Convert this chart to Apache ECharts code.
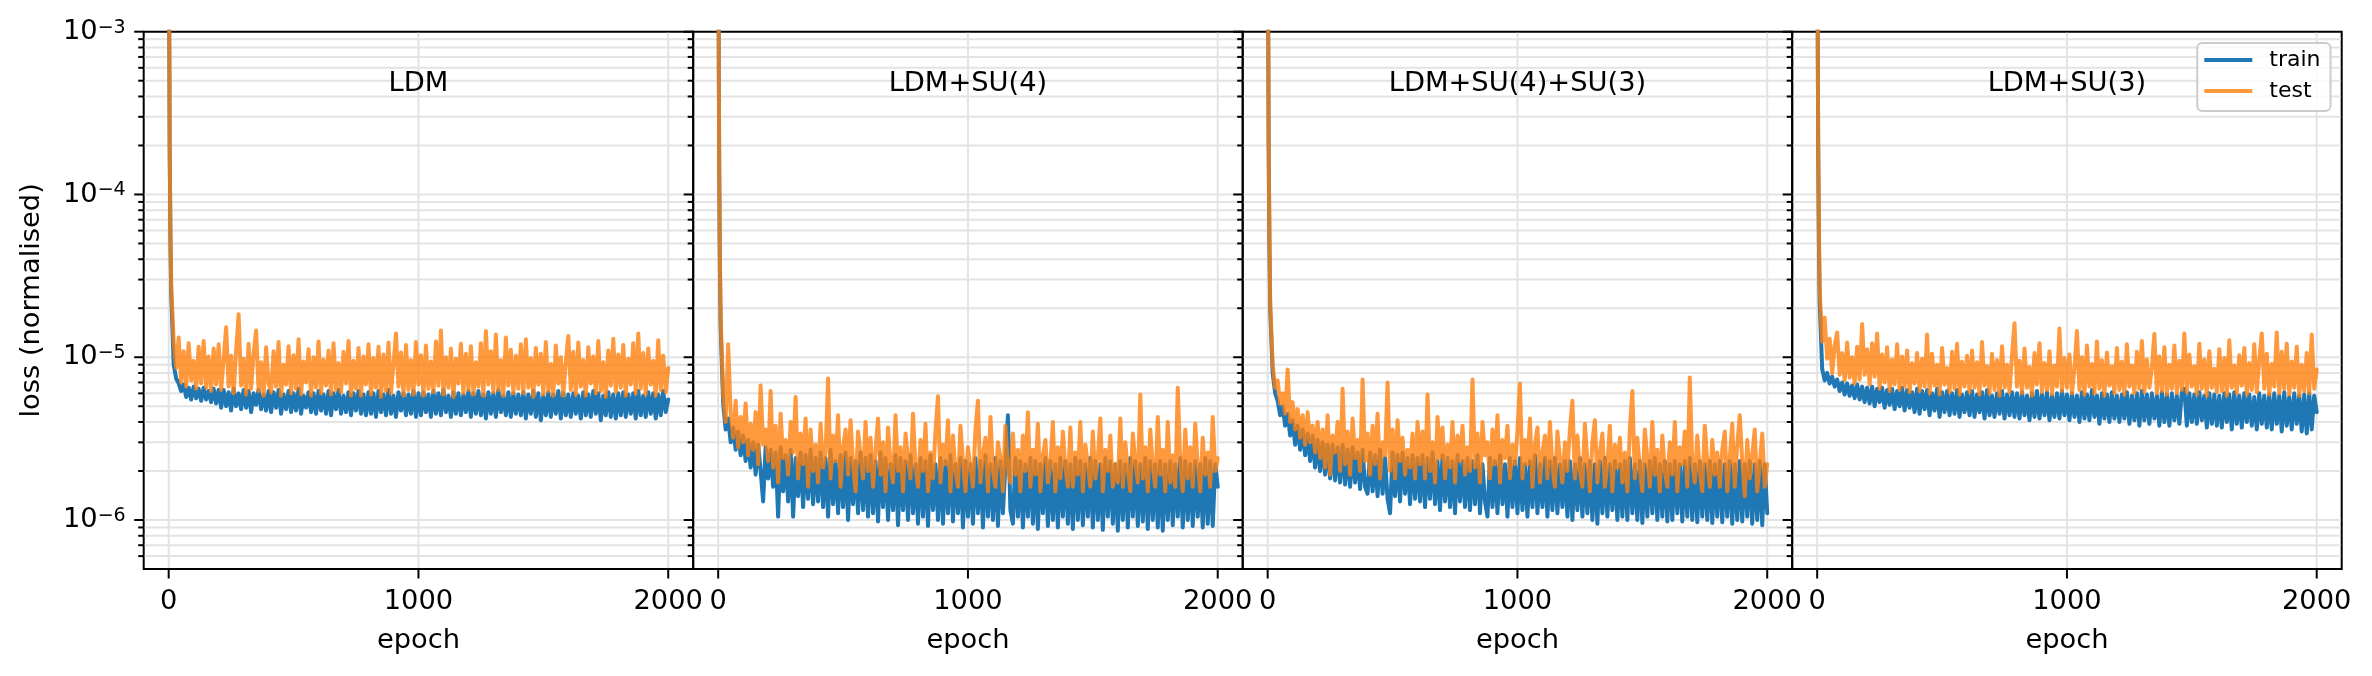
<!DOCTYPE html>
<html>
<head>
<meta charset="utf-8">
<title>loss curves</title>
<script src="https://cdn.jsdelivr.net/npm/echarts@6.0.0/dist/echarts.min.js"></script>
<style>
  html, body { margin: 0; padding: 0; background: #fff; }
  #chart { width: 2372px; height: 676px; }
</style>
</head>
<body>
<div id="chart"></div>
<script>
// panels, left to right
var panelTitles = ['LDM', 'LDM+SU(4)', 'LDM+SU(4)+SU(3)', 'LDM+SU(3)'];
var seriesNames = ['train', 'test'];
var xTicks = [0, 1000, 2000];
var yMajorTicks = [1e-6, 1e-5, 1e-4, 1e-3];

// epochs sampled: three early ones for the drop, then every 10
var earlyEpochs = [1, 4, 7];

// loss (normalised), in units of 1e-6
// one row = 200 epochs (10..200, 210..400, ...)
var ldmTrain = [3000, 200, 55,
  25, 9.0, 7.4, 6.9, 6.2, 6.8, 5.7, 6.5, 5.5, 6.6, 5.6, 6.4, 5.4, 6.5, 5.5, 6.2, 5.3, 6.4, 5.2, 6.3,
  4.9, 6.3, 5.0, 6.1, 4.7, 6.4, 5.0, 6.0, 4.8, 6.3, 4.9, 6.2, 4.6, 6.0, 5.1, 6.3, 4.8, 5.9, 4.7, 6.2,
  4.6, 6.1, 4.9, 6.3, 4.5, 5.9, 4.8, 6.2, 4.6, 6.0, 4.7, 6.4, 4.5, 5.8, 4.9, 6.1, 4.6, 6.0, 4.5, 6.2,
  4.7, 5.9, 4.5, 6.2, 4.4, 6.0, 4.8, 6.3, 4.5, 5.8, 4.6, 6.1, 4.4, 6.0, 4.7, 6.2, 4.5, 5.9, 4.4, 6.1,
  4.5, 6.0, 4.3, 6.2, 4.6, 5.9, 4.4, 6.3, 4.5, 5.8, 4.3, 6.1, 4.7, 6.0, 4.4, 5.9, 4.5, 6.2, 4.3, 6.0,
  4.4, 6.1, 4.6, 5.9, 4.3, 6.2, 4.5, 6.0, 4.4, 6.3, 4.6, 5.8, 4.3, 6.1, 4.5, 6.0, 4.4, 5.9, 4.6, 6.2,
  4.3, 6.0, 4.5, 6.2, 4.4, 5.9, 4.2, 6.1, 4.5, 6.0, 4.3, 6.3, 4.6, 5.8, 4.4, 6.1, 4.3, 6.0, 4.5, 5.9,
  4.4, 6.1, 4.2, 5.9, 4.5, 6.2, 4.3, 6.0, 4.1, 5.8, 4.4, 6.1, 4.3, 5.9, 4.5, 6.2, 4.2, 6.0, 4.4, 5.9,
  4.3, 6.0, 4.5, 5.8, 4.2, 6.1, 4.4, 5.9, 4.3, 6.2, 4.5, 6.0, 4.1, 5.8, 4.4, 6.1, 4.3, 5.9, 4.2, 6.0,
  4.4, 6.1, 4.3, 5.9, 4.5, 6.0, 4.2, 6.2, 4.4, 5.8, 4.3, 6.1, 4.5, 6.0, 4.2, 5.9, 4.4, 6.2, 4.6, 5.5];
var ldmTest = [3000, 210, 60,
  28, 12.5, 8.6, 13.2, 7.0, 10.9, 6.6, 12.2, 7.2, 9.5, 6.4, 11.6, 6.9, 12.6, 6.5, 10.1, 6.2, 11.3, 6.8, 12.0,
  6.3, 9.6, 15.3, 6.6, 10.2, 6.0, 11.0, 18.4, 6.7, 9.8, 5.9, 12.1, 6.4, 10.6, 14.6, 6.2, 9.3, 5.8, 11.5, 6.9,
  6.1, 10.9, 6.6, 12.4, 5.8, 9.0, 6.8, 11.7, 6.0, 10.3, 6.4, 12.9, 5.9, 9.4, 7.0, 11.2, 5.8, 10.0, 6.5, 12.5,
  6.0, 9.7, 6.7, 11.0, 5.9, 12.2, 6.3, 9.2, 6.1, 10.8, 6.9, 12.6, 5.8, 9.5, 6.4, 11.4, 5.8, 10.1, 6.8, 12.0,
  5.9, 9.9, 6.5, 11.6, 5.7, 10.4, 6.2, 12.3, 6.0, 9.1, 14.0, 6.6, 10.7, 5.8, 11.9, 6.3, 9.6, 5.9, 12.4, 6.8,
  10.3, 5.8, 11.8, 6.4, 9.4, 6.1, 12.5, 6.7, 14.6, 5.9, 10.0, 6.5, 11.3, 5.7, 9.8, 6.9, 12.1, 6.0, 10.5, 6.3,
  11.7, 5.9, 9.3, 6.6, 12.2, 5.8, 14.5, 6.8, 10.9, 6.1, 13.8, 6.3, 9.6, 5.8, 13.2, 6.7, 11.1, 6.0, 10.2, 6.4,
  12.0, 6.0, 12.9, 6.5, 9.9, 5.7, 11.4, 6.8, 10.5, 5.9, 12.4, 6.2, 9.1, 5.8, 11.8, 6.9, 10.0, 5.8, 9.4, 13.5,
  6.3, 10.8, 5.9, 12.3, 6.6, 9.6, 5.8, 11.5, 6.9, 10.1, 6.0, 12.6, 6.2, 9.3, 5.7, 11.0, 6.7, 13.0, 6.1, 10.4,
  6.5, 11.9, 5.8, 9.8, 6.8, 12.2, 6.0, 14.0, 6.4, 10.6, 5.9, 11.3, 6.8, 9.5, 5.8, 12.7, 6.3, 10.2, 6.1, 8.6];

var su4Train = [3000, 150, 35,
  15, 5.2, 3.6, 4.2, 3.0, 3.7, 2.7, 3.5, 2.5, 3.3, 2.3, 3.1, 2.1, 3.0, 1.9, 2.9, 2.0, 1.3, 2.8, 1.8,
  2.7, 1.6, 2.6, 1.05, 2.8, 1.5, 2.5, 1.3, 2.7, 1.05, 2.4, 1.4, 2.6, 1.2, 2.5, 1.35, 2.7, 1.25, 2.4, 1.3,
  2.6, 1.2, 2.4, 1.05, 2.7, 1.25, 2.3, 1.1, 2.5, 1.2, 2.6, 1.0, 2.4, 1.25, 2.3, 1.1, 2.6, 1.15, 2.4, 1.05,
  2.5, 1.1, 2.3, 0.98, 2.6, 1.2, 2.4, 1.0, 2.2, 1.15, 2.5, 0.93, 2.4, 1.15, 2.3, 1.0, 2.5, 1.1, 2.2, 0.95,
  2.4, 1.05, 2.3, 0.92, 2.5, 1.15, 2.2, 1.0, 2.4, 0.95, 2.3, 1.1, 2.5, 0.98, 2.2, 1.1, 2.4, 0.9, 2.3, 1.05,
  2.2, 0.95, 2.4, 1.1, 2.3, 0.9, 2.5, 1.05, 2.2, 1.0, 2.4, 0.92, 2.3, 1.1, 2.2, 4.4, 1.15, 0.95, 2.4, 1.05,
  2.3, 0.9, 2.2, 1.05, 2.4, 0.95, 2.3, 0.88, 2.2, 1.1, 2.4, 0.92, 2.3, 1.0, 2.2, 0.9, 2.4, 1.05, 2.3, 0.95,
  2.2, 0.88, 2.4, 1.0, 2.3, 0.93, 2.2, 1.05, 2.4, 0.9, 2.3, 1.0, 2.2, 0.87, 2.4, 1.05, 2.3, 0.95, 2.2, 0.86,
  2.3, 1.0, 2.2, 0.9, 2.4, 1.05, 2.3, 0.92, 2.2, 0.98, 2.4, 0.88, 2.3, 1.0, 2.2, 0.9, 2.3, 0.86, 2.2, 1.0,
  2.3, 0.93, 2.2, 1.05, 2.4, 0.9, 2.3, 1.0, 2.2, 0.92, 2.3, 1.05, 2.2, 0.9, 2.4, 0.95, 2.3, 0.92, 2.2, 1.6];
var su4Test = [3000, 170, 40,
  17, 6.0, 4.0, 12.0, 4.6, 3.2, 5.4, 2.8, 4.3, 3.0, 5.2, 2.5, 3.9, 2.7, 4.6, 2.2, 6.7, 2.9, 3.6, 2.3,
  6.2, 2.1, 3.8, 1.7, 4.5, 2.4, 3.1, 1.9, 4.0, 2.6, 5.7, 1.8, 3.4, 2.2, 4.2, 1.6, 3.6, 2.0, 2.9, 1.7,
  3.9, 2.1, 2.6, 7.4, 1.8, 3.3, 2.3, 4.4, 1.6, 2.8, 3.6, 1.9, 4.1, 2.2, 1.5, 3.5, 2.5, 1.8, 4.0, 2.0,
  3.2, 1.6, 2.7, 4.2, 1.9, 3.0, 1.5, 3.7, 2.2, 1.7, 4.4, 2.0, 2.8, 1.5, 3.4, 2.4, 1.8, 4.5, 2.1, 1.6,
  3.1, 2.0, 3.9, 1.5, 2.6, 1.8, 3.5, 5.75, 1.7, 2.9, 2.2, 4.1, 1.5, 3.3, 2.0, 1.6, 3.8, 2.3, 1.5, 2.8,
  2.1, 1.6, 3.6, 5.4, 1.7, 2.5, 3.2, 1.5, 4.3, 2.0, 1.6, 3.0, 2.4, 1.5, 3.8, 2.1, 1.7, 3.4, 1.9, 2.7,
  1.5, 3.3, 2.0, 4.6, 1.6, 2.7, 1.9, 3.9, 1.5, 2.5, 3.1, 1.7, 2.2, 4.0, 1.5, 2.8, 1.8, 3.5, 2.1, 1.6,
  3.7, 1.6, 2.6, 1.9, 4.0, 1.5, 2.9, 2.2, 1.6, 3.5, 1.8, 2.4, 4.2, 1.5, 2.7, 2.0, 3.3, 1.6, 2.2, 1.7,
  4.2, 1.6, 3.0, 2.0, 1.5, 3.4, 2.3, 1.7, 5.9, 1.8, 2.8, 1.5, 3.6, 2.1, 1.6, 4.3, 1.9, 2.7, 1.5, 4.0,
  1.7, 2.5, 1.6, 6.5, 2.3, 1.5, 3.6, 1.8, 2.8, 1.6, 3.9, 2.2, 1.5, 3.2, 1.9, 2.6, 1.6, 4.3, 2.0, 2.4];

var su43Train = [3000, 200, 50,
  20, 8.0, 6.0, 5.4, 4.4, 5.0, 3.8, 4.5, 3.3, 4.1, 2.9, 3.8, 2.7, 3.6, 2.5, 3.4, 2.3, 3.3, 2.1, 3.1,
  2.0, 3.0, 1.9, 2.9, 1.8, 2.9, 1.75, 2.8, 1.7, 2.9, 1.65, 2.7, 1.6, 2.8, 1.7, 2.6, 1.55, 2.7, 1.6, 1.45,
  2.6, 1.5, 2.5, 1.4, 2.7, 1.45, 2.4, 1.35, 1.1, 2.6, 1.4, 2.5, 1.3, 2.6, 1.45, 2.4, 1.25, 2.5, 1.35, 2.4,
  1.3, 2.5, 1.2, 2.4, 1.35, 2.6, 1.25, 2.3, 1.15, 2.5, 1.3, 2.4, 1.2, 2.3, 1.1, 2.5, 1.3, 2.3, 1.2, 2.4,
  1.15, 2.3, 1.25, 2.5, 1.1, 2.2, 1.3, 1.05, 2.4, 1.2, 2.3, 1.1, 2.5, 1.25, 2.2, 1.05, 2.4, 1.2, 2.3, 1.1,
  2.4, 1.15, 2.2, 1.05, 2.3, 1.2, 2.5, 1.1, 2.2, 1.2, 2.4, 1.05, 2.3, 1.15, 2.4, 1.1, 2.2, 1.2, 2.3, 1.05,
  2.3, 1.0, 2.2, 1.15, 2.4, 1.05, 2.2, 1.1, 2.3, 1.0, 2.2, 0.95, 2.3, 1.1, 2.4, 1.05, 2.2, 1.15, 2.3, 1.0,
  2.2, 1.05, 2.3, 1.0, 2.4, 1.1, 2.2, 1.0, 2.3, 0.96, 2.2, 1.05, 2.3, 1.1, 2.4, 1.0, 2.2, 1.05, 2.3, 0.98,
  2.2, 1.0, 2.3, 1.1, 2.2, 0.98, 2.3, 1.05, 2.4, 1.0, 2.2, 0.97, 2.3, 1.05, 2.2, 1.0, 2.3, 0.96, 2.2, 1.05,
  2.3, 0.97, 2.2, 1.05, 2.3, 0.95, 2.2, 1.0, 2.3, 0.98, 2.2, 1.05, 2.3, 0.95, 2.2, 1.0, 2.3, 0.93, 2.2, 1.1];
var su43Test = [3000, 210, 55,
  22, 9.0, 6.5, 7.2, 5.2, 6.0, 4.5, 8.4, 4.0, 5.3, 3.6, 4.8, 3.2, 4.4, 2.9, 4.6, 3.0, 3.8, 2.6, 4.0,
  2.4, 3.6, 2.1, 4.4, 1.9, 3.3, 2.6, 4.0, 2.0, 6.4, 2.2, 3.5, 1.9, 4.2, 2.4, 3.1, 2.0, 7.3, 2.3, 3.4,
  1.9, 3.8, 2.2, 4.5, 1.8, 3.0, 2.5, 7.0, 2.0, 3.6, 1.8, 4.1, 2.3, 3.2, 1.9, 2.7, 2.1, 3.4, 1.8, 4.0,
  2.2, 3.5, 1.8, 5.9, 2.0, 3.0, 1.7, 4.3, 2.4, 3.7, 1.8, 2.9, 2.1, 4.0, 1.7, 3.3, 2.3, 3.8, 1.9, 2.8,
  2.0, 7.3, 2.1, 3.4, 1.7, 4.0, 2.5, 3.0, 1.8, 3.6, 2.2, 4.4, 1.7, 3.1, 2.4, 3.8, 1.8, 2.9, 2.2, 3.5,
  6.9, 1.8, 3.1, 2.2, 4.2, 1.6, 2.9, 3.7, 1.7, 2.6, 3.3, 1.8, 4.0, 2.1, 1.6, 3.5, 2.4, 1.7, 3.0, 2.0,
  3.6, 5.4, 1.8, 3.3, 2.0, 1.6, 3.9, 2.3, 1.5, 3.0, 4.1, 1.7, 2.6, 3.4, 1.6, 2.2, 3.8, 1.5, 2.9, 2.1,
  3.2, 1.7, 2.6, 1.5, 3.6, 6.2, 1.8, 3.2, 2.1, 1.5, 3.6, 2.4, 1.6, 4.0, 1.9, 2.7, 1.5, 3.3, 2.0, 1.6,
  3.0, 1.9, 4.0, 1.5, 2.8, 2.2, 3.5, 1.6, 7.5, 2.2, 1.7, 3.3, 2.0, 1.5, 3.8, 2.3, 1.6, 3.1, 1.9, 2.6,
  1.6, 2.7, 3.5, 1.5, 2.4, 3.9, 1.6, 2.9, 4.4, 2.3, 1.4, 3.1, 1.8, 2.5, 3.6, 1.5, 2.2, 3.4, 1.6, 2.2];

var su3Train = [3000, 200, 50,
  22, 8.5, 7.2, 8.0, 6.9, 7.6, 6.6, 7.3, 6.2, 7.0, 5.9, 6.9, 5.8, 6.7, 5.6, 6.8, 5.5, 6.6, 5.3, 6.5,
  5.2, 6.6, 5.0, 6.4, 5.3, 6.5, 4.9, 6.3, 5.1, 6.4, 4.8, 6.2, 5.0, 6.5, 4.7, 6.3, 4.9, 6.1, 4.6, 6.4,
  4.5, 6.2, 4.8, 6.3, 4.4, 6.0, 4.7, 6.4, 4.3, 6.1, 4.6, 6.2, 4.4, 6.0, 4.5, 6.3, 4.3, 5.9, 4.6, 6.1,
  4.4, 6.2, 4.3, 5.9, 4.6, 6.1, 4.2, 6.3, 4.4, 5.8, 4.3, 6.0, 4.5, 6.2, 4.2, 5.9, 4.4, 6.1, 4.3, 6.0,
  4.2, 6.1, 4.4, 5.8, 4.1, 6.0, 4.3, 6.2, 4.2, 5.9, 4.4, 6.1, 4.1, 5.8, 4.3, 6.0, 4.2, 6.2, 4.4, 5.9,
  4.1, 6.0, 4.3, 5.8, 4.0, 6.1, 4.2, 5.9, 4.1, 6.3, 4.3, 5.8, 3.9, 6.0, 4.2, 5.9, 4.0, 6.1, 4.2, 5.8,
  4.0, 5.9, 4.2, 6.1, 3.9, 5.8, 4.1, 6.0, 3.8, 6.2, 4.1, 5.9, 3.9, 6.0, 4.2, 5.8, 3.8, 6.1, 4.0, 5.9,
  3.8, 6.0, 4.1, 5.8, 3.9, 6.1, 6.4, 3.8, 6.0, 4.0, 5.9, 3.9, 6.1, 4.1, 5.8, 3.7, 6.0, 3.9, 5.9, 3.8,
  5.8, 3.7, 6.0, 4.0, 5.9, 3.6, 6.1, 3.9, 5.8, 3.7, 6.0, 4.0, 5.9, 3.8, 5.7, 3.6, 6.0, 3.9, 5.8, 3.7,
  5.9, 3.6, 6.0, 3.9, 5.8, 3.5, 6.1, 3.8, 5.7, 3.6, 6.0, 3.9, 5.8, 3.5, 5.9, 3.4, 6.0, 3.6, 5.8, 4.6];
var su3Test = [3000, 220, 60,
  26, 12.5, 17.5, 9.8, 13.0, 8.0, 11.8, 14.2, 7.8, 10.6, 7.2, 12.3, 7.5, 10.0, 6.9, 11.6, 7.3, 16.0, 7.8, 11.2,
  6.8, 12.2, 7.6, 14.0, 6.4, 10.4, 7.0, 11.5, 6.2, 9.7, 6.8, 12.0, 6.3, 10.1, 6.6, 11.0, 6.1, 9.2, 6.9, 10.6,
  6.2, 9.8, 6.6, 13.8, 6.0, 10.5, 6.7, 9.0, 5.9, 11.4, 6.8, 8.6, 6.1, 10.8, 6.4, 12.1, 5.9, 9.4, 6.6, 10.2,
  6.1, 11.0, 6.5, 9.3, 5.9, 12.4, 6.7, 8.8, 6.0, 10.5, 6.3, 9.6, 5.8, 11.7, 6.5, 9.0, 6.1, 10.3, 16.2, 6.6,
  9.5, 6.0, 11.3, 6.5, 8.7, 5.8, 10.6, 6.8, 12.2, 6.1, 9.2, 6.3, 10.9, 5.9, 8.9, 6.6, 15.0, 6.2, 9.9, 6.5,
  10.4, 6.0, 8.5, 14.5, 6.3, 10.0, 5.9, 11.8, 6.6, 9.1, 6.0, 12.5, 6.4, 9.6, 5.8, 10.7, 6.7, 8.8, 6.0, 11.4,
  6.3, 9.4, 5.9, 12.0, 6.6, 8.9, 6.0, 10.8, 6.4, 12.6, 6.1, 9.7, 6.5, 8.6, 13.9, 6.0, 10.1, 6.2, 11.5, 5.9,
  9.0, 6.4, 11.8, 6.0, 9.5, 6.3, 14.0, 6.1, 10.4, 6.6, 8.8, 5.9, 12.1, 6.4, 9.7, 5.8, 10.9, 6.5, 8.5, 6.1,
  11.2, 6.2, 9.9, 5.8, 12.7, 6.5, 8.9, 6.0, 10.3, 6.7, 11.4, 5.9, 9.2, 6.3, 12.0, 6.1, 9.6, 14.0, 6.4, 10.5,
  5.9, 9.1, 6.6, 14.2, 6.0, 10.8, 6.4, 12.1, 5.9, 9.4, 6.5, 11.6, 5.8, 9.0, 6.2, 10.6, 6.0, 13.8, 6.4, 8.4];

var panelData = [
  [ldmTrain, ldmTest],
  [su4Train, su4Test],
  [su43Train, su43Test],
  [su3Train, su3Test]
];

var FONT = 'DejaVu Sans';
var trainColor = '#1f77b4';
var testColor = 'rgba(255,127,14,0.8)';
var gridColor = '#e3e3e3';
var gridLeft = 143.7, gridTop = 31.7, gridW = 549.5, gridH = 537.3;
var xMin = -100, xMax = 2100, yMin = 5e-7, yMax = 1e-3;

var epochs = earlyEpochs.slice();
for (var e = 10; e <= 2000; e += 10) epochs.push(e);

var toPairs = function (vals) {
  var out = [];
  for (var i = 0; i < vals.length && i < epochs.length; i++) {
    out.push([epochs[i], vals[i] * 1e-6]);
  }
  return out;
};

// log minor ticks 2..9 of each decade
var yMinorTicks = [];
[1e-7, 1e-6, 1e-5, 1e-4].forEach(function (d) {
  for (var m = 2; m <= 9; m++) {
    var v = m * d;
    if (v > 5.01e-7 && v < 0.99e-3) yMinorTicks.push(v);
  }
});

// kind: 0 minor y, 1 major y, 2 major x
var marks = [];
yMinorTicks.forEach(function (v) { marks.push([xMin, v, 0]); });
yMajorTicks.forEach(function (v) { marks.push([xMin, v, 1]); });
xTicks.forEach(function (v) { marks.push([v, yMin, 2]); });

var drawMarks = function (params, api) {
  var kind = api.value(2);
  var gridStyle = {stroke: gridColor, lineWidth: 2};
  var tickStyle = {stroke: '#000', lineWidth: 2};
  if (kind === 2) {
    var b = api.coord([api.value(0), yMin]);
    var t = api.coord([api.value(0), yMax]);
    return {type: 'group', children: [
      {type: 'line', shape: {x1: b[0], y1: b[1] - 1, x2: t[0], y2: t[1] + 1}, style: gridStyle},
      {type: 'line', shape: {x1: b[0], y1: b[1], x2: b[0], y2: b[1] + 9.5}, style: tickStyle}
    ]};
  }
  var l = api.coord([xMin, api.value(1)]);
  var r = api.coord([xMax, api.value(1)]);
  var len = kind === 1 ? 9.5 : 5.5;
  var children = [
    {type: 'line', shape: {x1: l[0] - len, y1: l[1], x2: l[0], y2: l[1]}, style: tickStyle}
  ];
  if (api.value(1) < 0.99e-3) {
    children.unshift({type: 'line', shape: {x1: l[0] + 1, y1: l[1], x2: r[0] - 1, y2: r[1]}, style: gridStyle});
  }
  return {type: 'group', children: children};
};

var powerLabel = function (v) {
  var p = Math.round(Math.log10(v));
  if (Math.abs(v / Math.pow(10, p) - 1) > 1e-6) return '';
  return '{b|10}{s|' + (p < 0 ? '\u2212' + (-p) : p) + '}';
};

var grids = [], xAxes = [], yAxes = [], series = [], texts = [];
panelTitles.forEach(function (title, i) {
  grids.push({
    left: gridLeft + gridW * i, top: gridTop, width: gridW, height: gridH,
    show: true, borderColor: '#000', borderWidth: 2, backgroundColor: 'transparent'
  });
  xAxes.push({
    type: 'value', gridIndex: i, min: xMin, max: xMax,
    name: 'epoch', nameLocation: 'middle', nameGap: 58,
    nameTextStyle: {fontSize: 27.3, fontFamily: FONT, color: '#000'},
    axisLine: {show: false}, axisTick: {show: false}, splitLine: {show: false},
    axisLabel: {
      margin: 19, fontSize: 27.3, fontFamily: FONT, color: '#000',
      formatter: function (v) { return xTicks.indexOf(v) >= 0 ? String(v) : ''; }
    }
  });
  yAxes.push({
    type: 'log', logBase: 10, gridIndex: i, min: yMin, max: yMax,
    name: i === 0 ? 'loss (normalised)' : '', nameLocation: 'middle', nameGap: 98,
    nameTextStyle: {fontSize: 27.3, fontFamily: FONT, color: '#000'},
    axisLine: {show: false}, axisTick: {show: false}, splitLine: {show: false},
    axisLabel: i === 0 ? {
      margin: 18, formatter: powerLabel,
      rich: {
        b: {fontSize: 27.3, fontFamily: FONT, color: '#000'},
        s: {fontSize: 19, fontFamily: FONT, color: '#000', verticalAlign: 'top'}
      }
    } : {show: false}
  });
  series.push({
    type: 'custom', xAxisIndex: i, yAxisIndex: i, z: 1, silent: true, clip: false,
    encode: {x: 0, y: 1}, data: marks, renderItem: drawMarks
  });
  panelData[i].forEach(function (vals, k) {
    series.push({
      name: seriesNames[k], type: 'line', xAxisIndex: i, yAxisIndex: i, z: 2 + k,
      data: toPairs(vals), showSymbol: false, symbol: 'none', silent: true,
      color: k === 0 ? trainColor : testColor,
      lineStyle: {width: 4, cap: 'round', join: 'round', color: k === 0 ? trainColor : testColor}
    });
  });
  texts.push({
    type: 'text', x: gridLeft + gridW * (i + 0.5), y: 84, z: 10,
    style: {text: title, fontSize: 27.3, fontFamily: FONT, fill: '#000', align: 'center', verticalAlign: 'middle'}
  });
});

var myChart = echarts.init(document.getElementById('chart'));
myChart.setOption({
  animation: false,
  backgroundColor: '#fff',
  grid: grids,
  xAxis: xAxes,
  yAxis: yAxes,
  series: series,
  graphic: texts,
  legend: {
    data: seriesNames, orient: 'vertical', right: 41.5, top: 43,
    icon: 'rect', itemWidth: 48, itemHeight: 4, itemGap: 9,
    padding: [6, 10, 9, 7],
    borderColor: '#cccccc', borderWidth: 2, borderRadius: 5,
    backgroundColor: 'rgba(255,255,255,0.8)',
    textStyle: {fontSize: 22, fontFamily: FONT, color: '#000', padding: [0, 0, 0, 12]}
  }
});
window.addEventListener('resize', function () {
  myChart.resize();
});
</script>
</body>
</html>
